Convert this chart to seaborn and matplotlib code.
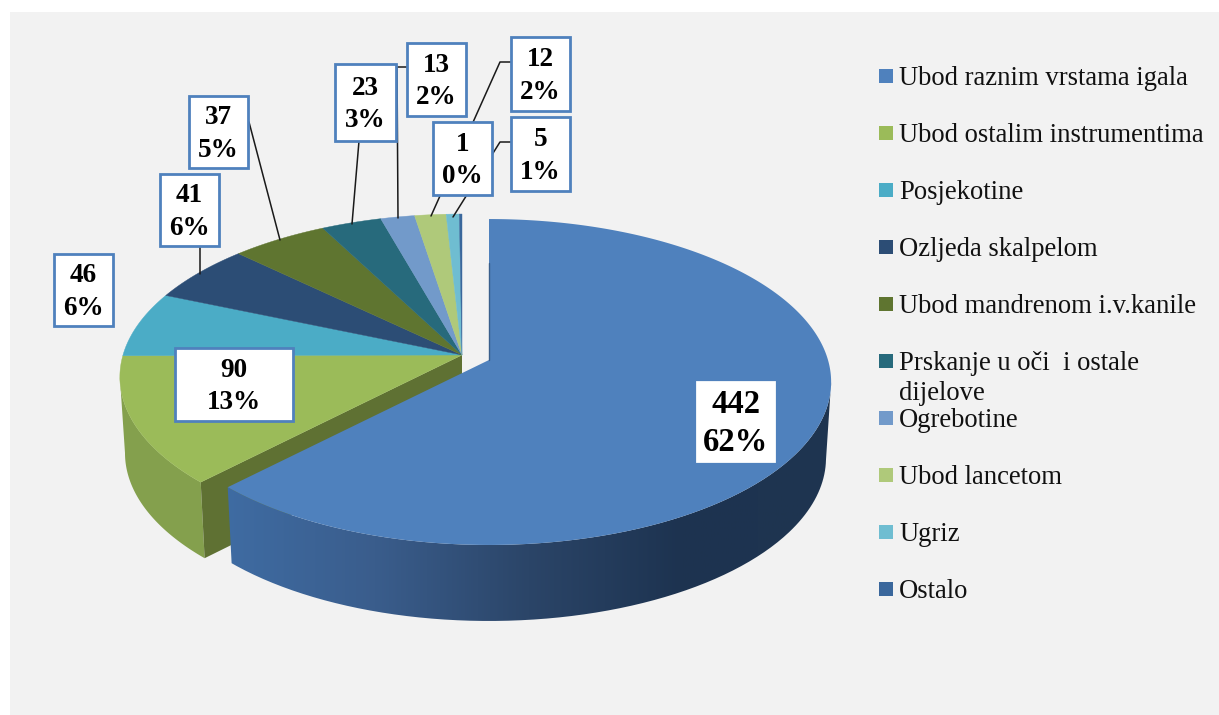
import numpy as np
import seaborn as sns
import matplotlib
matplotlib.use('Agg')
import matplotlib.pyplot as plt
from matplotlib.colors import LinearSegmentedColormap
from matplotlib.patches import Rectangle, PathPatch
from matplotlib.path import Path

categories = ['Ubod raznim vrstama igala', 'Ubod ostalim instrumentima', 'Posjekotine',
              'Ozljeda skalpelom', 'Ubod mandrenom i.v.kanile',
              'Prskanje u oči  i ostale\ndijelove', 'Ogrebotine', 'Ubod lancetom', 'Ugriz', 'Ostalo']
values = [442, 90, 46, 41, 37, 23, 13, 12, 5, 1]
colors = ['#4f81bd', '#9bbb59', '#4bacc6', '#2c4d75', '#5f7530',
          '#276a7c', '#729aca', '#afc97a', '#6fbdd1', '#3a679c']

# label boxes in pixels: x0, y0, x1, y1
boxes = [(697, 382, 774, 461), (175, 348, 293, 421), (54, 254, 113, 326), (160, 174, 219, 246),
         (189, 96, 248, 168), (335, 64, 396, 141), (407, 43, 466, 116), (511, 37, 570, 111),
         (511, 117, 570, 191), (433, 122, 492, 195)]
leaders = [[(200, 246), (200, 274)],
           [(249, 122), (280, 240)],
           [(359, 141), (352, 224)],
           [(407, 67), (397, 67), (398, 218)],
           [(511, 62), (500, 62), (431, 216)],
           [(511, 142), (500, 142), (453, 217)]]

W, H = 1219, 715
RX, RY, K = 339, 160, 0.135
DEPTH = 76
SHRINK = 0.985
EDGE = np.degrees(np.arcsin(K))   # angle where the ellipse is widest


def rim(theta, cx, cy):
    # circle -> perspective ellipse, y measured from the apex
    t = np.radians(theta)
    d = 1 + K * np.sin(t)
    return cx + RX * np.cos(t) / d, cy - RY * np.sin(t) / d


def wall(a, b, cx, cy):
    x, y = rim(np.linspace(a, b, 200), cx, cy)
    xb = cx + (x - cx) * SHRINK
    return np.r_[x, xb[::-1]], np.r_[y, y[::-1] + DEPTH]


sns.set_theme(style='white')
plt.rcParams['font.family'] = ['Liberation Serif', 'DejaVu Serif']

fig = plt.figure(figsize=(W / 100, H / 100), dpi=100, facecolor='white')
ax = fig.add_axes([0, 0, 1, 1])
palette = sns.color_palette(colors)
wedges, _ = ax.pie(values, colors=palette, startangle=90, counterclock=False, frame=True)
angles = [(w.theta1, w.theta2) for w in wedges]
for w in wedges:
    w.remove()
ax.set_aspect('auto')
ax.set_xlim(0, W)
ax.set_ylim(H, 0)
ax.axis('off')

ax.add_patch(Rectangle((10, 12), W - 10, H - 12, facecolor='#f2f2f2', edgecolor='none', zorder=0))

cx0, cy0 = 462, 355   # rest of the pie
cx1, cy1 = 489, 360   # pulled out slice

# rest of the pie: side wall and cut face
a, b = angles[1]
x, y = wall(-180 + EDGE, b, cx0, cy0)
ax.fill(x, y, color='#84a04d', lw=0, zorder=1)
px, py = rim(b, cx0, cy0)
ax.fill([cx0, px, cx0 + (px - cx0) * SHRINK, cx0], [cy0, py, py + DEPTH, cy0 + DEPTH],
        color='#5f7133', lw=0, zorder=1)
for (a, b), c in zip(angles[1:], palette[1:]):
    x, y = rim(np.linspace(a, b, 80), cx0, cy0)
    ax.fill(np.r_[cx0, x], np.r_[cy0, y], color=c, lw=0.3, ec=c, zorder=2)

# main slice wall with gradient
a, b = angles[0]
x, y = wall(a, -EDGE, cx1, cy1)
cmap = LinearSegmentedColormap.from_list('w', ['#3f6ca3', '#3a5d8c', '#2b4568', '#1d3350', '#1f3550'])
im = ax.imshow(np.linspace(0, 1, 256)[None, :], cmap=cmap, extent=[222, 835, 700, 300],
               aspect='auto', zorder=3)
im.set_clip_path(PathPatch(Path(np.c_[x, y]), transform=ax.transData))
ax.set_xlim(0, W)
ax.set_ylim(H, 0)
x, y = rim(np.linspace(a, b, 300), cx1, cy1)
ax.fill(np.r_[cx1, x], np.r_[cy1, y], color=palette[0], lw=0, zorder=4)
ax.plot([cx1, cx1], [263, cy1], color='#3a5f8c', lw=1, zorder=4)

# leaders
for pts in leaders:
    ax.plot(*zip(*pts), color='#1a1a1a', lw=1.1, zorder=5)

# data labels
total = sum(values)
for i, (v, bx) in enumerate(zip(values, boxes)):
    x0, y0, x1, y1 = bx
    ax.add_patch(Rectangle((x0, y0), x1 - x0, y1 - y0, facecolor='white',
                           edgecolor='white' if i == 0 else '#4f81bd', lw=2, zorder=6))
    fs = 23.5 if i == 0 else 19.5
    ax.text((x0 + x1) / 2, (y0 + y1) / 2 + 2, '%d\n%d%%' % (v, round(v / total * 100)), ha='center', va='center',
            fontsize=fs, fontweight='bold', color='black', linespacing=1.3 if i == 0 else 1.38, zorder=7)

# legend
for i, (name, c) in enumerate(zip(categories, palette)):
    yc = 76 + 57 * i
    ax.add_patch(Rectangle((879, yc - 7), 14, 14, facecolor=c, edgecolor='none', zorder=6))
    ax.text(899, yc - 10, name, ha='left', va='top', fontsize=19.2, color='#111111', linespacing=1.27, zorder=7)

fig.savefig('out.png', dpi=100, facecolor='white')
